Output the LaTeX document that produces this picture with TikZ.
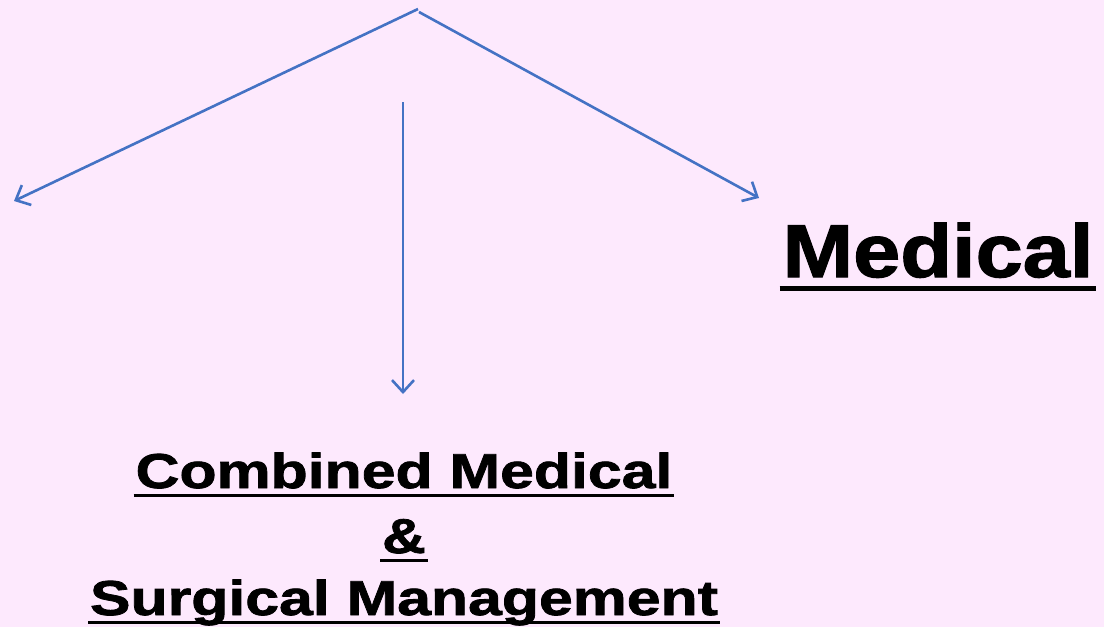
\documentclass[tikz,border=0pt]{standalone}
\usepackage{fontspec}
\setmainfont{Liberation Sans}
\usetikzlibrary{arrows.meta}
\newfontfamily\combfont[FakeStretch=1.24,FakeBold=1.6]{Liberation Sans Bold}
\newfontfamily\medfont[FakeStretch=1.13,FakeBold=1.6]{Liberation Sans Bold}
\definecolor{bgpink}{RGB}{253,233,253}
\definecolor{arrowblue}{RGB}{68,114,196}
% underlined text, rule slightly wider than the word
\newcommand{\uln}[1]{\setbox0\hbox{#1}\rlap{\kern-0.04em\rule[-0.18em]{\dimexpr\wd0+0.08em\relax}{0.065em}}\box0}
\tikzset{
  branch/.style={draw=arrowblue, line width=2.6pt, -{Straight Barb[length=12pt,width=22pt]}},
  title/.style={inner sep=0pt, anchor=base}
}
\begin{document}
\begin{tikzpicture}[x=1pt,y=-1pt]
    \fill[bgpink] (0,0) rectangle (1104,627);
    \useasboundingbox (0,0) rectangle (1104,627);
    \coordinate (apex) at (418,9);
    \coordinate (lefttip) at (14,201);
    \coordinate (midstart) at (403,102);
    \coordinate (midtip) at (403,394);
    \coordinate (righttip) at (759,198);
    \node[title, font=\medfont\fontsize{75}{80}\selectfont] (medical) at (938,277) {\uln{Medical}};
    \foreach \i/\txt/\y in {1/Combined Medical/488, 2/\&/553, 3/Surgical Management/615} {
        \node[title, font=\combfont\fontsize{49}{52}\selectfont] (line\i) at (404,\y) {\uln{\txt}};
    }
    \draw[branch] (apex) -- (lefttip);
    \draw[branch] ([shift={(1,3)}]apex) -- (righttip);
    \draw[branch] (midstart) -- (midtip);
\end{tikzpicture}
\end{document}
